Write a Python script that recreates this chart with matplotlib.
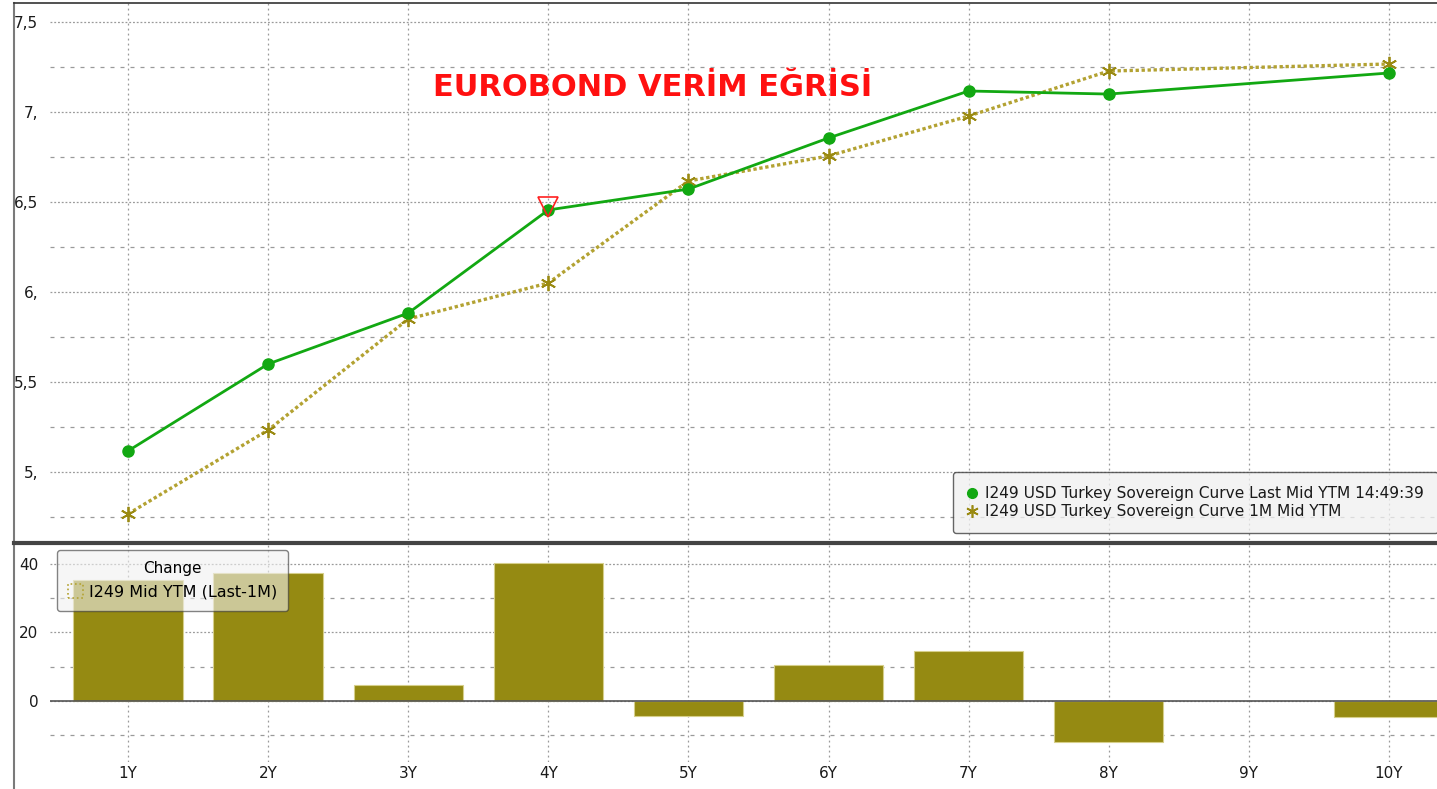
import matplotlib
matplotlib.use("Agg")
import matplotlib.pyplot as plt
from matplotlib.lines import Line2D
from matplotlib.patches import Patch
from matplotlib.ticker import MultipleLocator

# tenor axis
tenor_x = [1, 2, 3, 4, 5, 6, 7, 8, 9, 10]
tenor_labels = ["1Y", "2Y", "3Y", "4Y", "5Y", "6Y", "7Y", "8Y", "9Y", "10Y"]

# curves (no 9Y point)
curve_x = [1, 2, 3, 4, 5, 6, 7, 8, 10]
last_ytm = [5.117, 5.600, 5.883, 6.456, 6.572, 6.856, 7.117, 7.100, 7.217]
m1_ytm = [4.767, 5.233, 5.850, 6.050, 6.617, 6.756, 6.978, 7.228, 7.267]
change_bp = [35.3, 37.4, 4.7, 40.3, -4.4, 10.5, 14.6, -12.0, -4.7]

flag_x = [4]
flag_y = [6.47]

ytick_vals = [5.0, 5.5, 6.0, 6.5, 7.0, 7.5]
ytick_labels = ["5,", "5,5", "6,", "6,5", "7,", "7,5"]
bar_ticks = [0, 20, 40]

title = "EUROBOND VERİM EĞRİSİ"
label_last = "I249 USD Turkey Sovereign Curve Last Mid YTM 14:49:39"
label_1m = "I249 USD Turkey Sovereign Curve 1M Mid YTM"
label_chg = "I249 Mid YTM (Last-1M)"

green = "#12a812"
olive_line = "#b3a232"
olive_mark = "#9a8a12"
bar_col = "#958a12"
grid_col = "#9a9a9a"
txt_col = "#1a1a1a"
star = (6, 2, 0)

W, H = 1437, 789
fig = plt.figure(figsize=(W / 100, H / 100), dpi=100)
fig.patch.set_facecolor("white")

def fx(px):
    return px / W

def fy(py):
    return 1 - py / H

ax = fig.add_axes([fx(50), fy(540), 1 - fx(50), fy(3) - fy(540)])
axb = fig.add_axes([fx(50), fy(762), 1 - fx(50), fy(545) - fy(762)], sharex=ax)

major_ls = (0, (1.5, 1.5))
minor_ls = (0, (3.2, 4.8))

for a in (ax, axb):
    for s in a.spines.values():
        s.set_visible(False)
    a.tick_params(which="both", length=0, colors=txt_col, labelsize=11)
    a.set_xticks(tenor_x)
    a.grid(True, which="major", axis="x", color=grid_col, linestyle=(0, (1.5, 2.5)), linewidth=0.9)

ax.set_xlim(0.443, 10.343)

# top panel: yield curves
ax.set_ylim(4.622, 7.606)
ax.set_yticks(ytick_vals)
ax.set_yticklabels(ytick_labels)
ax.yaxis.set_minor_locator(MultipleLocator(0.25))
ax.grid(True, which="major", axis="y", color=grid_col, linestyle=major_ls, linewidth=0.9)
ax.grid(True, which="minor", axis="y", color=grid_col, linestyle=minor_ls, linewidth=0.9)
ax.tick_params(axis="y", which="both", pad=8.5)
ax.tick_params(axis="x", labelbottom=False)

ax.plot(curve_x, m1_ytm, color=olive_line, linestyle=(0, (1, 0.8)), linewidth=2.4,
        marker=star, markersize=11, markerfacecolor=olive_mark, markeredgecolor=olive_mark,
        markeredgewidth=1.3, zorder=3)
ax.plot(curve_x, last_ytm, color=green, linewidth=2.0,
        marker="o", markersize=8, markerfacecolor=green, markeredgecolor=green, zorder=4)
ax.plot(flag_x, flag_y, linestyle="none", marker="v", markersize=14,
        markerfacecolor="none", markeredgecolor="#ff2020", markeredgewidth=1.2, zorder=5)

ax.text(fx(653), fy(87), title, transform=fig.transFigure, ha="center", va="center",
        color="#ff1010", fontsize=22, fontweight="bold", family="DejaVu Sans")

handles_top = [
    Line2D([], [], linestyle="none", marker="o", color=green, markersize=7),
    Line2D([], [], linestyle="none", marker=star, color=olive_mark, markersize=9, markeredgewidth=1.2),
]
leg = ax.legend(handles_top, [label_last, label_1m], loc="lower left",
                bbox_to_anchor=((953 - 50) / 1387, (540 - 533) / 537), borderaxespad=0,
                fontsize=11.1, frameon=True, fancybox=True, facecolor="#f0f0f0",
                edgecolor="#333333", framealpha=0.75, handlelength=0.6, handletextpad=0.6,
                labelspacing=0.2, borderpad=0.9)
leg.get_frame().set_linewidth(1.0)
for t in leg.get_texts():
    t.set_color(txt_col)

# bottom panel: change bars
bar_x = curve_x
axb.bar(bar_x, change_bp, width=0.78, color=bar_col, edgecolor="#d6cf8a", linewidth=0.8, zorder=2)
axb.set_ylim(-17.8, 45.5)
axb.set_yticks(bar_ticks)
axb.yaxis.set_minor_locator(MultipleLocator(10))
axb.grid(True, which="major", axis="y", color=grid_col, linestyle=major_ls, linewidth=0.9)
axb.grid(True, which="minor", axis="y", color=grid_col, linestyle=minor_ls, linewidth=0.9)
axb.axhline(0, color="#555555", linewidth=1.2, zorder=3)
axb.set_xticklabels(tenor_labels)
axb.tick_params(axis="y", which="both", pad=8.5)
axb.tick_params(axis="x", pad=3)

leg2 = axb.legend([Patch(facecolor="none", edgecolor=olive_line, linestyle=":", linewidth=1.2)],
                  [label_chg], title="Change", loc="upper left",
                  bbox_to_anchor=((57 - 50) / 1387, (762 - 550) / 217), borderaxespad=0,
                  fontsize=11.5, title_fontsize=11, frameon=True, fancybox=True,
                  facecolor="#f0f0f0", edgecolor="#333333", framealpha=0.6,
                  handlelength=0.9, handleheight=1.0, handletextpad=0.4, borderpad=0.7)
leg2.get_frame().set_linewidth(1.0)
leg2.set_zorder(10)

# frame pieces: left border, top border, panel divider
fig.add_artist(Line2D([fx(14), fx(14)], [0, fy(3)], transform=fig.transFigure,
                      color="#7a7a7a", linewidth=1.5))
fig.add_artist(Line2D([fx(14), 1], [fy(3), fy(3)], transform=fig.transFigure,
                      color="#333333", linewidth=1.2))
fig.add_artist(Line2D([fx(14), 1], [fy(542.5), fy(542.5)], transform=fig.transFigure,
                      color="#444444", linewidth=3.0))

fig.savefig("out.png", dpi=100)
